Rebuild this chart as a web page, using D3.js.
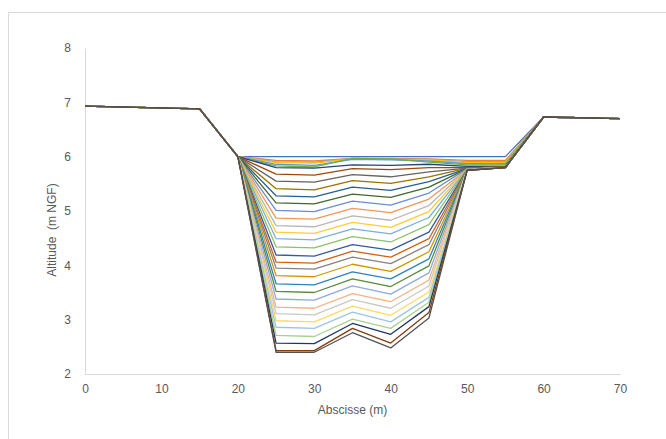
<!DOCTYPE html>
<html lang="fr">
<head>
<meta charset="UTF-8">
<script src="https://d3js.org/d3.v7.min.js"></script>
<style>
body { margin: 0; background: #fff; }
.tick text { font: 12px "Liberation Sans", Arial, sans-serif; fill: #595959; }
.titre { font: 12px "Liberation Sans", Arial, sans-serif; fill: #595959; }
.profil { fill: none; stroke-width: 1.3px; stroke-linejoin: round; }
</style>
</head>
<body>
<svg width="666" height="439"></svg>
<script>
// abscisses des points du profil (m)
const abscisse = [0, 15, 20, 25, 30, 35, 40, 45, 50, 55, 60, 70];
// berges communes à tous les profils
const berge_gauche = [6.93, 6.88, 6.00];   // x = 0, 15, 20
const berge_droite = [6.73, 6.70];         // x = 60, 70
// altitudes dans le chenal, x = 25, 30, 35, 40, 45, 50, 55 (un profil par ligne)
const chenal = [
  [6.00, 6.00, 6.00, 6.00, 6.00, 6.00, 6.00],
  [5.93, 5.92, 5.97, 5.97, 5.96, 5.93, 5.93],
  [5.91, 5.90, 5.97, 5.96, 5.95, 5.91, 5.91],
  [5.89, 5.88, 5.96, 5.95, 5.94, 5.89, 5.89],
  [5.86, 5.84, 5.95, 5.94, 5.92, 5.87, 5.87],
  [5.83, 5.81, 5.97, 5.96, 5.90, 5.85, 5.85],
  [5.80, 5.79, 5.85, 5.84, 5.86, 5.82, 5.82],
  [5.68, 5.66, 5.78, 5.76, 5.80, 5.80, 5.81],
  [5.55, 5.53, 5.67, 5.63, 5.72, 5.79, 5.81],
  [5.41, 5.39, 5.56, 5.51, 5.63, 5.79, 5.81],
  [5.28, 5.26, 5.44, 5.38, 5.54, 5.78, 5.80],
  [5.15, 5.13, 5.31, 5.25, 5.44, 5.78, 5.80],
  [5.01, 4.99, 5.18, 5.11, 5.33, 5.78, 5.80],
  [4.87, 4.85, 5.05, 4.97, 5.22, 5.77, 5.80],
  [4.73, 4.71, 4.91, 4.83, 5.10, 5.77, 5.80],
  [4.61, 4.59, 4.79, 4.70, 4.99, 5.77, 5.80],
  [4.49, 4.47, 4.67, 4.58, 4.88, 5.77, 5.80],
  [4.34, 4.32, 4.53, 4.43, 4.75, 5.77, 5.80],
  [4.19, 4.17, 4.38, 4.28, 4.61, 5.76, 5.80],
  [4.06, 4.04, 4.26, 4.15, 4.49, 5.76, 5.80],
  [3.95, 3.93, 4.15, 4.03, 4.38, 5.76, 5.80],
  [3.81, 3.79, 4.02, 3.89, 4.25, 5.76, 5.80],
  [3.66, 3.64, 3.88, 3.75, 4.12, 5.76, 5.80],
  [3.52, 3.50, 3.75, 3.61, 3.99, 5.76, 5.80],
  [3.38, 3.36, 3.62, 3.47, 3.86, 5.76, 5.80],
  [3.23, 3.21, 3.48, 3.33, 3.73, 5.76, 5.80],
  [3.11, 3.09, 3.37, 3.21, 3.62, 5.76, 5.80],
  [2.98, 2.96, 3.25, 3.08, 3.51, 5.75, 5.80],
  [2.86, 2.84, 3.14, 2.96, 3.41, 5.75, 5.80],
  [2.71, 2.69, 3.01, 2.84, 3.32, 5.75, 5.80],
  [2.57, 2.56, 2.93, 2.73, 3.24, 5.75, 5.80],
  [2.43, 2.43, 2.84, 2.57, 3.13, 5.75, 5.80],
  [2.40, 2.40, 2.76, 2.48, 3.03, 5.75, 5.80]
];
// palette Excel par défaut
const couleurs = [
  "#4472C4", "#ED7D31", "#A5A5A5", "#FFC000", "#5B9BD5", "#70AD47",
  "#264478", "#9E480E", "#636363", "#997300", "#255E91", "#43682B",
  "#698ED0", "#F1975A", "#B7B7B7", "#FFCD33", "#7CAFDD", "#8CC168",
  "#335AA1", "#D26012", "#848484", "#CC9A00", "#3282BD", "#5A8A39",
  "#8FAADC", "#F4B183", "#C9C9C9", "#FFD966", "#9DC3E6", "#A9D18E",
  "#203864", "#843C0C", "#525252"
];
const xTicks = [0, 10, 20, 30, 40, 50, 60, 70];
const yTicks = [2, 3, 4, 5, 6, 7, 8];

const svg = d3.select("svg");

// cadre du graphique
svg.append("rect")
  .attr("x", 8.5).attr("y", 12.5)
  .attr("width", 720).attr("height", 500)
  .attr("fill", "#fff").attr("stroke", "#d9d9d9");

const x = d3.scaleLinear().domain([0, 70]).range([85, 620]);
const y = d3.scaleLinear().domain([2, 8]).range([374, 48]);

const gx = svg.append("g")
  .attr("transform", `translate(0,${y(2)})`)
  .call(d3.axisBottom(x).tickValues(xTicks).tickFormat(d3.format("d")).tickSize(0).tickPadding(10));
gx.select(".domain").attr("stroke", "#d9d9d9");

const gy = svg.append("g")
  .attr("transform", `translate(${x(0)},0)`)
  .call(d3.axisLeft(y).tickValues(yTicks).tickFormat(d3.format("d")).tickSize(0).tickPadding(14));
gy.select(".domain").attr("stroke", "#d9d9d9");

svg.append("text").attr("class", "titre")
  .attr("x", (x(0) + x(70)) / 2).attr("y", 414)
  .attr("text-anchor", "middle")
  .text("Abscisse (m)");

svg.append("text").attr("class", "titre")
  .attr("transform", `translate(56,${y(4.65)}) rotate(-90)`)
  .attr("text-anchor", "middle")
  .style("white-space", "pre")
  .text("Altitude  (m NGF)");

const ligne = d3.line()
  .x((d, i) => x(abscisse[i]))
  .y(d => y(d));

svg.append("g").selectAll("path")
  .data(chenal)
  .join("path")
  .attr("class", "profil")
  .attr("stroke", (d, i) => couleurs[i])
  .attr("d", d => ligne([...berge_gauche, ...d, ...berge_droite]));
</script>
</body>
</html>
